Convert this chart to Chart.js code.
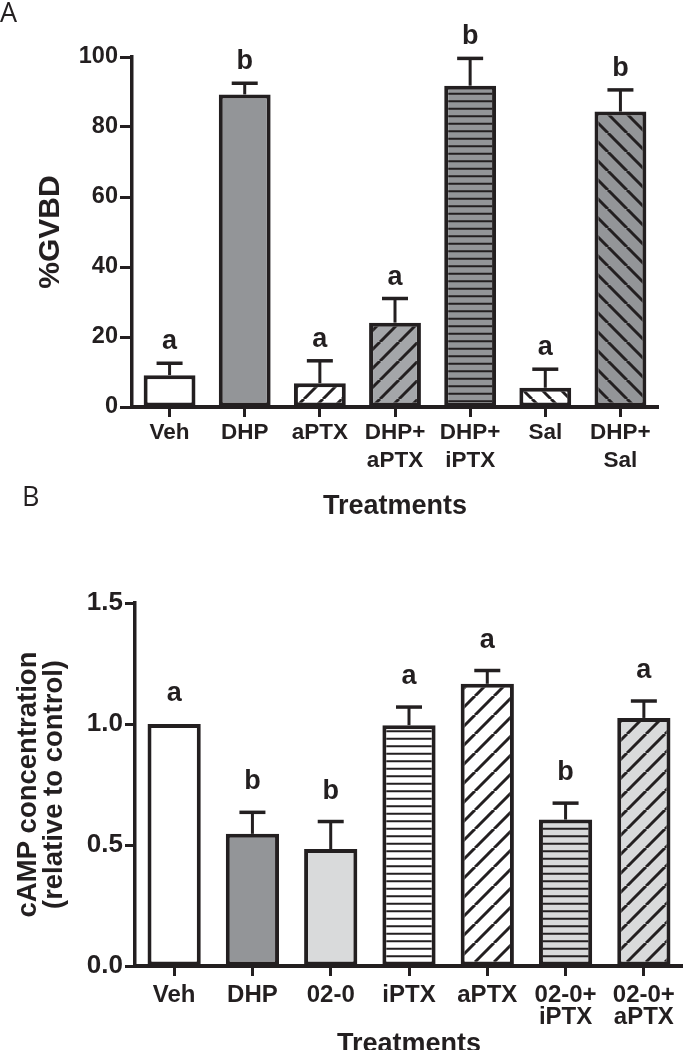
<!DOCTYPE html>
<html><head><meta charset="utf-8">
<script src="https://cdn.jsdelivr.net/npm/chart.js@4/dist/chart.umd.min.js"></script>
<style>
html,body{margin:0;padding:0;background:#fff;}
#wrap{position:relative;width:683px;height:1050px;overflow:hidden;background:#fff;}
canvas{position:absolute;left:0;}
#cA{top:0;} #cB{top:525px;}
.pl{position:absolute;font-family:"Open Sans",sans-serif;font-size:27px;color:#231f20;line-height:1;z-index:2;}
</style></head><body>
<div id="wrap">
<canvas id="cA" width="683" height="525"></canvas>
<canvas id="cB" width="683" height="525"></canvas>
<div class="pl" style="left:0px;top:-2px">A</div>
<div class="pl" style="left:22px;top:482px">B</div>
</div>
<script>
// ---------- Panel A data ----------
const catsA = ['Veh', 'DHP', 'aPTX', ['DHP+', 'aPTX'], ['DHP+', 'iPTX'], 'Sal', ['DHP+', 'Sal']];
const gvbd = [9.1, 89.3, 6.8, 24.1, 91.8, 5.5, 84.4];
const gvbdErr = [3.4, 3.2, 6.4, 6.9, 7.8, 5.3, 6.2];
const lettersA = ['a', 'b', 'a', 'a', 'b', 'a', 'b'];
const ticksA = [0, 20, 40, 60, 80, 100];

// ---------- Panel B data ----------
const catsB = ['Veh', 'DHP', '02-0', 'iPTX', 'aPTX', ['02-0+', 'iPTX'], ['02-0+', 'aPTX']];
const camp = [1.0, 0.546, 0.483, 0.995, 1.166, 0.605, 1.025];
const campErr = [0, 0.089, 0.114, 0.075, 0.055, 0.068, 0.07];
const lettersB = ['a', 'b', 'b', 'a', 'a', 'b', 'a'];
const ticksB = [0, 0.5, 1.0, 1.5];

// ---------- styles ----------
const INK = '#231f20';
const FONT = '"Liberation Sans", Arial, sans-serif';
const NARROW = '"Liberation Sans Narrow", "Arial Narrow", "Liberation Sans", sans-serif';
const GRAY = '#939598', GRAY2 = '#a4a6a9', LIGHT = '#d9dadb', WHITE = '#ffffff';
const fillsA = [['none', WHITE], ['none', GRAY], ['f', WHITE], ['f', GRAY2], ['h', GRAY], ['b', WHITE], ['b', GRAY]];
const fillsB = [['none', WHITE], ['none', GRAY], ['none', LIGHT], ['h', WHITE], ['f', WHITE], ['h', LIGHT], ['f', LIGHT]];

function makePattern(kind, bg) {
  if (kind === 'none') return bg;
  const c = document.createElement('canvas');
  const w = kind === 'h' ? 15 : 19, h = w;
  c.width = w; c.height = h;
  const g = c.getContext('2d');
  g.fillStyle = bg; g.fillRect(0, 0, w, h);
  g.strokeStyle = INK;
  if (kind === 'h') {
    g.lineWidth = 2;
    [3.75, 11.25].forEach(y => { g.beginPath(); g.moveTo(0, y); g.lineTo(w, y); g.stroke(); });
  } else {
    g.lineWidth = 3;
    for (let k = -1; k <= 1; k++) {
      g.beginPath();
      if (kind === 'f') { g.moveTo(k * w, h); g.lineTo(k * w + w, 0); }
      else { g.moveTo(k * w, 0); g.lineTo(k * w + w, h); }
      g.stroke();
    }
  }
  return document.getElementById('cA').getContext('2d').createPattern(c, 'repeat');
}

const errLetters = {
  id: 'errLetters',
  afterDatasetsDraw(chart, args, opts) {
    const ctx = chart.ctx;
    const meta = chart.getDatasetMeta(0);
    const ys = chart.scales.y;
    ctx.save();
    ctx.strokeStyle = INK;
    ctx.lineCap = 'butt';
    meta.data.forEach((bar, i) => {
      const v = opts.values[i], e = opts.errors[i];
      const x = bar.x;
      const yTop = ys.getPixelForValue(v);
      const yErr = ys.getPixelForValue(v + e);
      if (e > 0) {
        ctx.lineWidth = 3;
        ctx.beginPath(); ctx.moveTo(x, yTop); ctx.lineTo(x, yErr); ctx.stroke();
        ctx.lineWidth = 3.5;
        ctx.beginPath(); ctx.moveTo(x - 13, yErr); ctx.lineTo(x + 13, yErr); ctx.stroke();
      }
      ctx.font = 'bold 27px ' + FONT;
      ctx.fillStyle = INK;
      ctx.textAlign = 'center';
      ctx.textBaseline = 'alphabetic';
      ctx.fillText(opts.letters[i], x, yErr - opts.gap);
    });
    ctx.restore();
  }
};

function build(id, p) {
  return new Chart(document.getElementById(id), {
    type: 'bar',
    data: {
      labels: p.cats,
      datasets: [{
        data: p.values,
        backgroundColor: p.fills.map(f => makePattern(f[0], f[1])),
        borderColor: INK,
        borderWidth: 4,
        borderSkipped: false,
        barPercentage: p.barPct,
        categoryPercentage: 1
      }]
    },
    plugins: [errLetters],
    options: {
      responsive: false,
      animation: false,
      events: [],
      layout: { padding: p.pad },
      plugins: {
        legend: { display: false },
        tooltip: { enabled: false },
        errLetters: { values: p.values, errors: p.errors, letters: p.letters, gap: p.gap }
      },
      scales: {
        x: {
          offset: true,
          grid: { display: true, drawOnChartArea: false, drawTicks: true, tickLength: 10, tickWidth: 3, tickColor: INK, offset: false },
          border: { display: true, width: 4, color: INK },
          ticks: { font: { family: FONT, size: p.xFont, weight: 'bold', lineHeight: p.xLine }, color: INK, padding: p.xPad, maxRotation: 0, autoSkip: false },
          title: { display: true, text: 'Treatments', color: INK, font: { family: FONT, size: 27, weight: 'bold', lineHeight: p.tLine }, padding: { top: 0, bottom: p.tPad } },
          afterFit(s) { s.height = p.xH; }
        },
        y: {
          min: p.min, max: p.max,
          afterBuildTicks(s) { s.ticks = p.ticks.map(v => ({ value: v })); },
          grid: { display: true, drawOnChartArea: false, drawTicks: true, tickLength: p.yTick, tickWidth: 3, tickColor: INK },
          border: { display: true, width: 3.5, color: INK },
          ticks: { font: { family: FONT, size: p.yFont, weight: 'bold' }, color: INK, padding: 2, callback: p.fmt },
          title: { display: true, text: p.yTitle, color: INK, font: { family: p.yTitleFam, size: p.yTitleSize, weight: 'bold', lineHeight: p.yTitleLine }, padding: { top: p.yTitlePad, bottom: 0 } },
          afterFit(s) { s.width = p.yW; }
        }
      }
    }
  });
}

build('cA', {
  cats: catsA, values: gvbd, errors: gvbdErr, letters: lettersA, fills: fillsA, ticks: ticksA,
  barPct: 0.69, gap: 14, min: 0, max: 100, fmt: v => String(v),
  pad: { top: 57, left: 0, right: 25, bottom: 0 },
  xFont: 22.5, xLine: '28px', xPad: 2, tLine: 1.2, tPad: 2, xH: 118,
  yFont: 23.5, yTick: 12, yW: 132,
  yTitle: '%GVBD', yTitleFam: NARROW, yTitleSize: 30, yTitleLine: 1.2, yTitlePad: 33
});

build('cB', {
  cats: catsB, values: camp, errors: campErr, letters: lettersB, fills: fillsB, ticks: ticksB,
  barPct: 0.68, gap: 23, min: 0, max: 1.5, fmt: v => Number(v).toFixed(1),
  pad: { top: 78, left: 0, right: 0, bottom: 0 },
  xFont: 24, xLine: '22px', xPad: 8, tLine: '11px', tPad: 0, xH: 84,
  yFont: 26, yTick: 10, yW: 135,
  yTitle: ['cAMP concentration', '(relative to control)'], yTitleFam: FONT, yTitleSize: 27.5, yTitleLine: '26px', yTitlePad: 15
});
</script>
</body></html>
